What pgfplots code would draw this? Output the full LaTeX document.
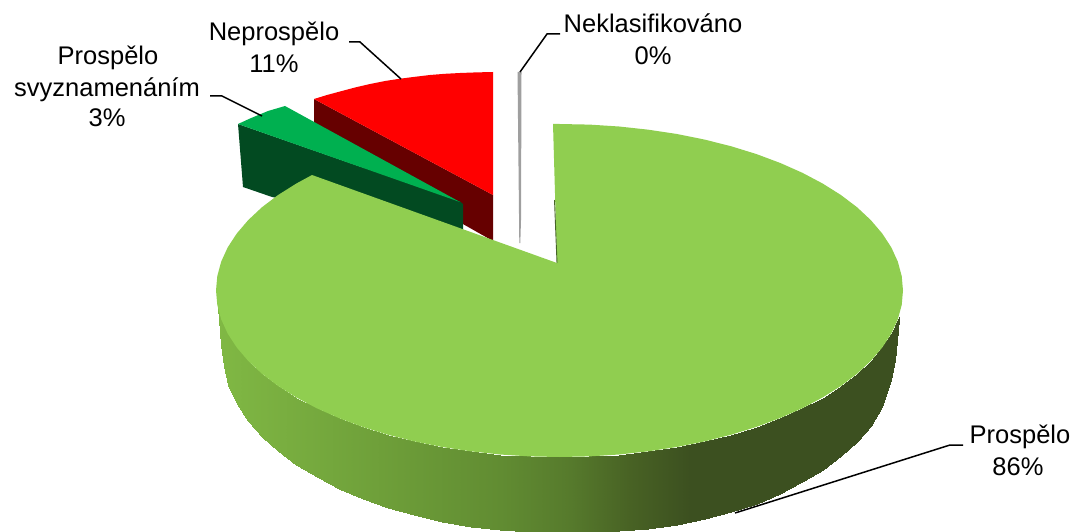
\documentclass[border=0pt]{standalone}
\usepackage{pgfplots}
\pgfplotsset{compat=1.18}
\usepackage{fontspec}
\setmainfont{Liberation Sans}
\definecolor{maintop}{RGB}{144,206,80}
\definecolor{redtop}{RGB}{255,0,0}
\definecolor{redside}{RGB}{102,0,0}
\definecolor{greentop}{RGB}{0,176,80}
\definecolor{greenside}{RGB}{2,74,33}
\definecolor{hair}{RGB}{70,100,40}
\newcommand{\lab}[3]{\node[anchor=base,inner sep=0pt,font=\fontsize{25.5}{30}\selectfont] at (axis cs:#1,#2) {#3};}
\begin{document}
\begin{tikzpicture}
\path[use as bounding box] (0,0) rectangle (1073pt,532pt);
\begin{axis}[
  at={(0,0)}, anchor=south west,
  scale only axis, width=1073pt, height=532pt,
  xmin=0, xmax=1073, ymin=0, ymax=532, y dir=reverse,
  hide axis, clip=true,
  colormap={side}{rgb255(0pt)=(128,184,68); rgb255(183pt)=(108,156,56); rgb255(283pt)=(97,140,50); rgb255(353pt)=(86,122,44); rgb255(413pt)=(72,98,36); rgb255(473pt)=(60,80,32); rgb255(682pt)=(60,80,32)},
]
% Neprospelo 11%
\addplot[fill=redside,draw=none] coordinates {(314,99)(493,195)(493,241)(314,140)};
\addplot[fill=redtop,draw=none] coordinates {(314,99)(327,95)(340,91.5)(355,87.5)(370,84)(385,81)(400,78.7)(415,76.8)(430,75)(445,73.8)(460,73)(476,72.4)(493,72)(493,195)};
% Prospelo s vyznamenanim 3%
\addplot[fill=greenside,draw=none] coordinates {(238,124)(460,201.5)(463,204)(463,235)(272,197)(243,187)};
\addplot[fill=greentop,draw=none] coordinates {(238,124)(250,118.5)(268,111)(285,106)(460,202)};
% Neklasifikovano 0%
\addplot[fill=gray!75,draw=none] coordinates {(517.5,72)(521.5,72)(521,220)(520.3,243)(519.3,243)};
% Prospelo 86%: side wall
\addplot[surf, shader=interp, mesh/rows=2, point meta=x] coordinates {
 (218,308)(220,315)(221.2,319.4)(224,326)(227.7,333.6)(236.7,347.4)(248.2,360.9)(262,373.8)(278.1,386)(296.4,397.5)(316.6,408.2)(338.7,418)(362.5,426.9)(387.7,434.7)(414.3,441.4)(442,447)(470.6,451.3)(499.9,454.5)(529.6,456.4)(559.5,457)(589.4,456.4)(619.1,454.5)(648.4,451.3)(677,447)(704.7,441.4)(731.3,434.7)(756.5,426.9)(780.3,418)(802.4,408.2)(822.6,397.5)(840.9,386)(857,373.8)(870.8,360.9)(882.3,347.4)(891.3,333.6)(895,326)(897.8,319.4)(899,317)

 (218,308)(220,332)(221.2,345)(224,366)(227.7,385.4)(236.7,404.4)(248.2,421.3)(262,436.8)(278.1,451.3)(296.4,464.7)(316.6,477.1)(338.7,488.5)(362.5,498.6)(387.7,507.6)(414.3,515.2)(442,521.6)(470.6,526.6)(499.9,530.1)(529.6,532.3)(559.5,533)(589.4,533)(619.1,531)(648.4,528.5)(677,524.5)(704.7,519)(731.3,512)(756.5,503.5)(780.3,493.5)(802.4,482)(822.6,469.5)(840.9,456)(857,441.5)(870.8,426)(882.3,407)(891.3,380)(895,360)(897.8,331)(899,317)
};
% Prospelo 86%: top
\addplot[fill=maintop,draw=none] coordinates {
 (553,124)(559.5,124)(589.4,124.6)(619.1,126.5)(648.4,129.7)(677,134)(704.7,139.6)(731.3,146.3)(756.5,154.1)(780.3,163)(802.4,172.8)(822.6,183.5)(840.9,195)(857,207.2)(870.8,220.1)(882.3,233.6)(891.3,247.4)(897.8,261.6)(901.7,276)(903,290.5)
 (901.7,305)(897.8,319.4)(891.3,333.6)(882.3,347.4)(870.8,360.9)(857,373.8)(840.9,386)(822.6,397.5)(802.4,408.2)(780.3,418)(756.5,426.9)(731.3,434.7)(704.7,441.4)(677,447)(648.4,451.3)(619.1,454.5)(589.4,456.4)(559.5,457)
 (529.6,456.4)(499.9,454.5)(470.6,451.3)(442,447)(414.3,441.4)(387.7,434.7)(362.5,426.9)(338.7,418)(316.6,408.2)(296.4,397.5)(278.1,386)(262,373.8)(248.2,360.9)(236.7,347.4)(227.7,333.6)(221.2,319.4)(217.3,305)(216,290.5)
 (217.3,276)(221.2,261.6)(227.7,247.4)(236.7,233.6)(248.2,220.1)(262,207.2)(278.1,195)(296.4,183.5)(312,175)(557,263)};
\addplot[color=hair,line width=0.9pt] coordinates {(554.5,200)(557,263)};
% leader lines
\addplot[black,line width=1.5pt] coordinates {(520,72)(547,34)(560,34)};
\addplot[black,line width=1.5pt] coordinates {(401,79)(360,42)(349,42)};
\addplot[black,line width=1.5pt] coordinates {(262,116)(222,96)(210,96)};
\addplot[black,line width=1.5pt] coordinates {(735,513)(950,445)(963,445)};
% labels
\lab{653}{33}{Neklasifikováno}
\lab{653}{65}{0\%}
\lab{274}{41}{Neprospělo}
\lab{274}{73}{11\%}
\lab{108}{65}{Prospělo}
\lab{107}{97}{svyznamenáním}
\lab{107}{127}{3\%}
\lab{1020}{443}{Prospělo}
\lab{1018}{475}{86\%}
\end{axis}
\end{tikzpicture}
\end{document}
